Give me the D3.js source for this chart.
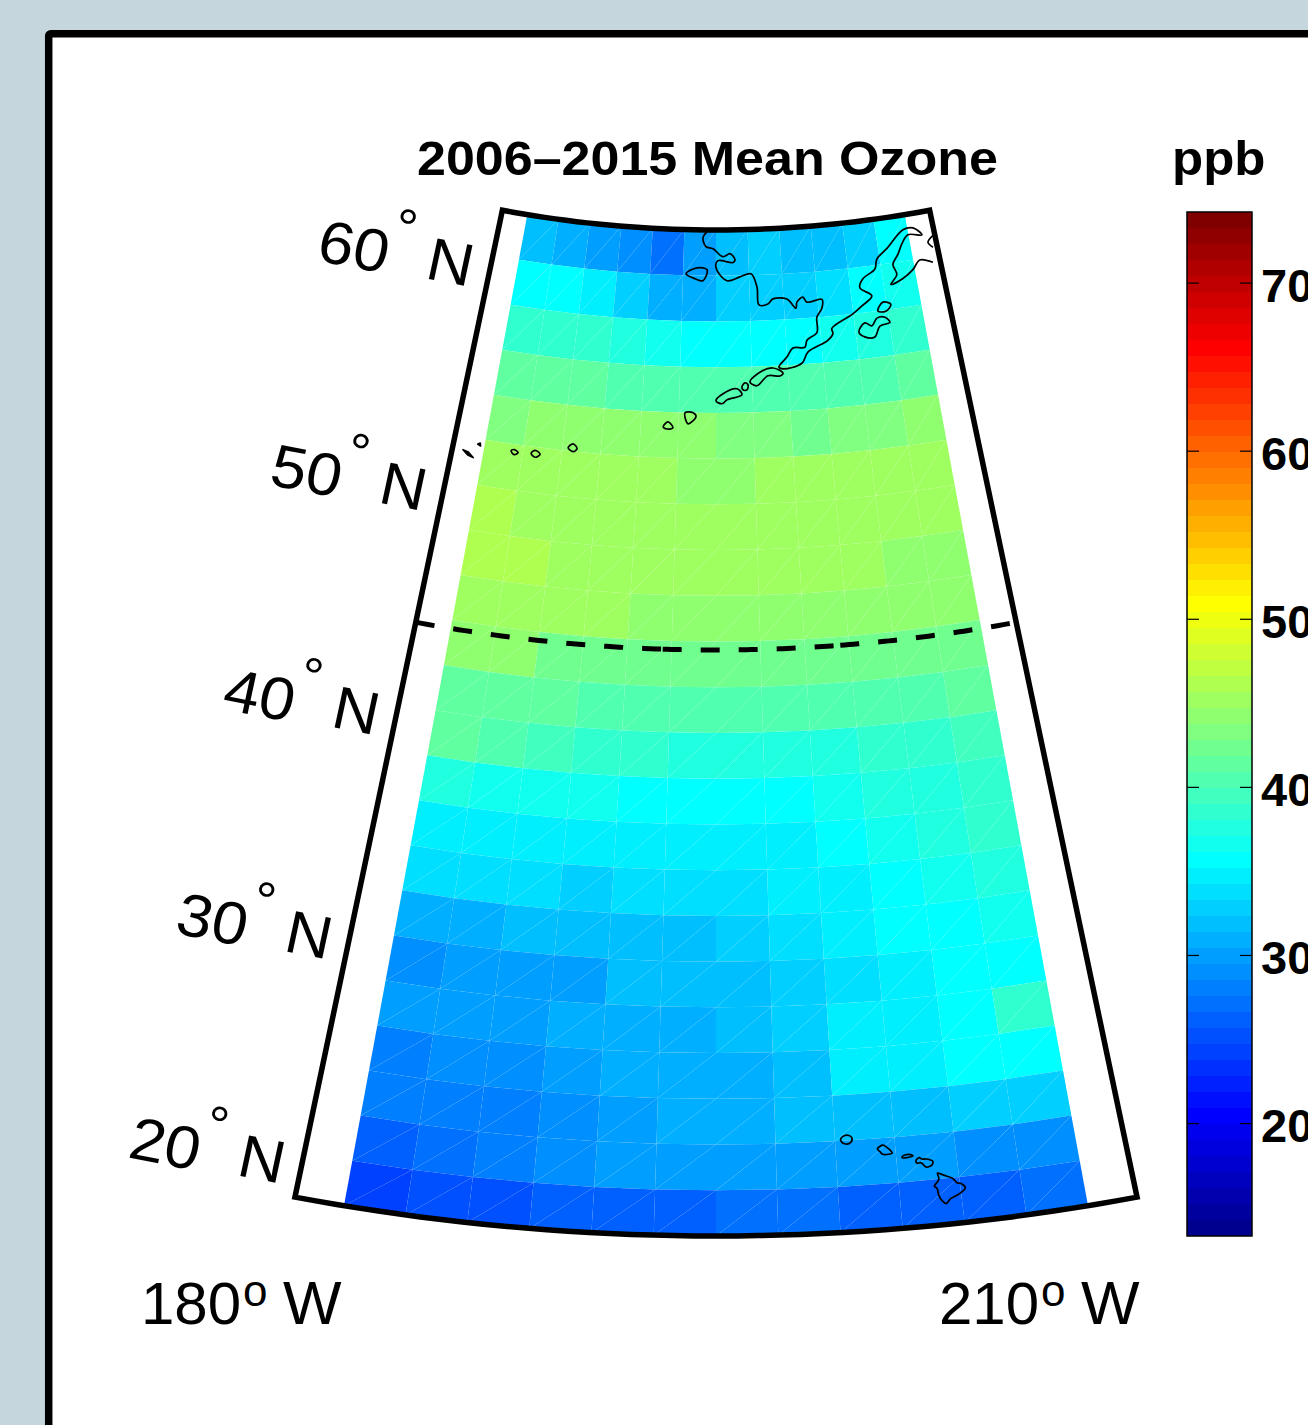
<!DOCTYPE html>
<html>
<head>
<meta charset="utf-8">
<script src="https://cdnjs.cloudflare.com/ajax/libs/d3/7.8.5/d3.min.js"></script>
<style>
  body { margin: 0; background: #c5d7dd; }
  svg { display: block; }
  text { font-family: "Liberation Sans", Arial, sans-serif; fill: #000; }
</style>
</head>
<body>
<svg width="1308" height="1425"></svg>
<script>
// grid edges, 2 x 2.5 degree cells
var latEdges = [62,60,58,56,54,52,50,48,46,44,42,40,38,36,34,32,30,28,26,24,22,20,18];
var lonEdges = [180,182.5,185,187.5,190,192.5,195,197.5,200,202.5,205,207.5,210];

// mean ozone in ppb, north row first, west to east
var row62 = [32,31,30,29,27.2,30,32,32.6,32,32,33,35.6];
var row60 = [35.6,35.6,34.9,32.4,30.6,31,32.4,32.4,33,33.9,35.3,37];
var row58 = [38.4,38.4,38.2,37.2,36.6,35.6,35.6,35.6,35.6,36.2,37.6,38.4];
var row56 = [41.4,41.5,41,40.5,40.5,40,40,40,40,40.5,40.5,41.4];
var row54 = [43.2,44.2,44.2,44.2,44.2,43.8,43.2,43.2,42.2,43.2,43.4,44.5];
var row52 = [45,45.2,45.2,45.2,45.2,43.8,43.8,45.2,45.2,45.2,45.2,45.2];
var row50 = [46.2,45.2,45.2,45.2,45.2,45.2,45.2,45.2,45.2,45.2,45.2,44.8];
var row48 = [46.2,46.2,45.2,45.2,45.2,45.2,45.2,45.2,45.2,45.2,44.2,44.2];
var row46 = [44.8,45.2,45.2,45.2,44.2,44.2,44.2,44.2,44.2,43.8,43.8,44.2];
var row44 = [44,43.8,42.6,42.4,42.4,42.4,42.4,42.4,42.4,42.4,42.4,42.6];
var row42 = [41.6,41.4,41.4,40.6,40.5,40.5,40.5,40.5,40.5,40.5,40.5,41.4];
var row40 = [41,40.5,39.9,38.5,38.2,37.6,37.6,37.6,37.8,38.2,38.6,39.8];
var row38 = [37.6,36.6,36.6,36.6,35.6,35.6,35.6,35.6,36.6,37.2,37.6,38.8];
var row36 = [34.8,34.8,34.8,34.8,34.8,34.8,34.8,34.8,35.6,36.6,37.6,38.5];
var row34 = [33.4,33.4,33.4,32.9,33.4,33.9,33.9,34.6,34.9,35.6,36.6,37.6];
var row32 = [31,31,31.5,31.5,32,32,32.5,33.9,34.8,35.6,36,36.6];
var row30 = [29,30,30,30,31.5,31.5,31.5,32.9,33.9,34.8,35.6,35.6];
var row28 = [29.6,30,30,30.5,30.5,31,31.5,32.9,34.4,34.8,35.6,38.2];
var row26 = [28,28.6,29,30,30.5,31,31,32,34.8,34.8,35.6,35.6];
var row24 = [27.6,27.6,28,29,30,30.5,31,32,32,32,32.5,32.9];
var row22 = [26.6,27.2,27.6,28.6,29.6,30,30,30,30,29.6,29,29];
var row20 = [24.3,24.8,25.3,26.2,26.6,26.6,26.9,26.9,26.6,26.6,26.6,27.2];
var ozoneRows = [row62,row60,row58,row56,row54,row52,row50,row48,row46,row44,row42,row40,
                 row38,row36,row34,row32,row30,row28,row26,row24,row22,row20];

var barTicks = [20,30,40,50,60,70];
var latLabels = [60,50,40,30,20];
var lonLabels = ["180", "210"];
var frameLons = [178,212];
var frameLats = [18,62];
var dashLat = 43.63;
var dashBreaks = [178,192,202,212];

// coast outlines in lon (east), lat
var akCoast = [[194.29,61.92],[193.98,61.66],[194.22,61.27],[194.77,61.18],[195.54,60.83],[196.08,60.96],[196.46,60.69],[196.3,60.57],[195.15,60.66],[195,60.35],[195.83,59.78],[196.81,59.94],[197.65,60.06],[198.07,59.48],[198.17,58.69],[198.83,58.72],[199.22,58.93],[200.25,58.89],[200.87,58.47],[200.97,58.73],[201.44,58.93],[201.71,58.7],[202.83,58.77],[202.76,58.38],[202.34,58.01],[202.25,57.35],[201.49,57.04],[201.31,56.74],[200.45,56.74],[199.99,56.36],[199.39,55.94],[199.66,55.85],[201.01,56.05],[201.49,56.52],[202.97,56.96],[203.38,57.24],[203.34,57.47],[204.97,58.01],[205.7,58.31],[206.52,58.69],[205.72,59.11],[206.03,59.48],[207.03,59.84],[207.29,60.26],[208.18,60.66],[209.65,61.36],[210.44,61.37],[211.02,61],[209.96,61.11],[209.38,60.77],[208.93,60.33],[208.43,59.93],[208.6,59.47],[208.04,59.08],[209,59.26],[209.85,59.57],[210.5,59.94],[211.44,59.74]];
var akEast = [[211.85,60.9],[211.37,60.64],[211.67,60.39]];
var nunivak = [[192.73,60.07],[193.55,60.34],[194.32,60.26],[194.02,59.78],[193.42,59.86]];
var kodiak = [[205.24,57.2],[205.75,57.56],[206.22,57.39],[206.66,57.7],[207.24,57.69],[207.54,57.44],[206.79,57.34],[206.32,56.89],[205.62,56.95]];
var afognak = [[207.26,58.36],[207.81,58.22],[207.37,57.95],[206.8,58]];
var unimak = [[197.34,55.34],[198.2,55.8],[198.97,55.91],[199.65,55.67],[199.43,55.55],[198.6,55.58],[197.81,55.16]];
var akutan = [[196.78,55.13],[197,55.3],[197.2,55.21],[197.12,54.99],[196.85,55]];
var unalaska = [[195,54.53],[195.48,54.84],[196.44,55.05],[196.77,54.78],[195.75,54.57],[195.41,54.4]];
var umnak = [[192.92,53.99],[193.46,54],[193.66,53.83],[193.14,53.51]];
var atka = [[191.49,53.35],[191.8,53.57],[192.15,53.32],[191.76,53.26]];
var adak = [[185.38,52.14],[185.67,52.33],[185.96,52.14],[185.73,51.99]];
var kiska = [[183.05,51.71],[183.28,51.86],[183.63,51.72],[183.34,51.56]];
var amchitka = [[181.75,51.7],[181.93,51.77],[182.21,51.66],[181.98,51.55]];
var attu = [[178.69,51.41],[179.05,51.35],[179.42,51.15],[179.05,51.22]];
var agattu = [[179.55,51.76],[179.7,51.82],[179.75,51.7]];
var bigIsland = [[204.13,20.27],[204.2,20.25],[204.45,20.12],[204.72,19.98],[204.9,19.75],[205.02,19.73],[205.2,19.52],[205.05,19.35],[204.78,19.2],[204.55,19.1],[204.35,18.91],[204.2,19.05],[204.09,19.3],[204.05,19.6],[203.95,19.72],[204.1,19.9],[204.17,20.02]];
var maui = [[203.3,20.9],[203.45,21.02],[203.55,20.95],[203.75,20.93],[204,20.8],[203.95,20.65],[203.7,20.58],[203.55,20.75],[203.47,20.8],[203.35,20.78]];
var molokai = [[202.75,21.13],[202.9,21.2],[203.15,21.17],[203.2,21.12],[202.95,21.07],[202.75,21.08]];
var oahu = [[201.75,21.55],[201.97,21.7],[202.05,21.68],[202.35,21.32],[202.2,21.28],[201.95,21.3],[201.85,21.42]];
var kauai = [[200.25,22.1],[200.4,22.22],[200.6,22.22],[200.72,22.1],[200.65,21.9],[200.4,21.87],[200.25,22]];
var islands = [nunivak,kodiak,afognak,unimak,akutan,unalaska,umnak,atka,adak,kiska,amchitka,bigIsland,maui,molokai,oahu,kauai];
var tinyIslands = [attu,agattu];

var svg = d3.select("svg");

// panel
svg.append("rect").attr("x",48.7).attr("y",33.7).attr("width",1400).attr("height",1500).attr("rx",2)
   .attr("fill","#fff").attr("stroke","#000").attr("stroke-width",7.5);

// conic map: latitude goes to radius, longitude to angle, apex above the page
// the figure was stretched a bit sideways, hence xStretch (the text too)
var apex = [716,-806];
var xStretch = 1.0616;
var radius = d3.scaleLinear().domain([18,62]).range([2042,1036]);
var angle = d3.scaleLinear().domain([195,210]).range([0,0.6588*15*Math.PI/180]);
function project(p){
  var r = radius(p[1]), a = angle(p[0]);
  return [apex[0]+xStretch*r*Math.sin(a), apex[1]+r*Math.cos(a)];
}
var line = d3.line();
var smoothClosed = d3.line().curve(d3.curveCatmullRomClosed.alpha(0.5));
var smoothOpen = d3.line().curve(d3.curveCatmullRom.alpha(0.5));
function parallel(lat,lon0,lon1){
  return d3.range(0,41).map(function(i){ return project([lon0+(lon1-lon0)*i/40,lat]) });
}

// jet(64) as matlab builds it, indexed 1..64
var barRange = [13.28,74.2];
var jet = d3.scaleLinear().domain([1,8,24,40,56,64])
            .range(["#00008f","#0000ff","#00ffff","#ffff00","#ff0000","#800000"]);
var level = d3.scaleQuantize().domain(barRange).range(d3.range(1,65));
function colour(v){ return jet(level(v)) }

// the cells, split in two triangles each so the seams show like in the original surface
var cells = [];
ozoneRows.forEach(function(row,i){
  row.forEach(function(v,j){
    var tl = project([lonEdges[j],latEdges[i]]), tr = project([lonEdges[j+1],latEdges[i]]);
    var bl = project([lonEdges[j],latEdges[i+1]]), br = project([lonEdges[j+1],latEdges[i+1]]);
    cells.push({v:v,pts:[bl,br,tr]});
    cells.push({v:v,pts:[bl,tr,tl]});
  });
});
svg.append("g").selectAll("path").data(cells).enter().append("path")
   .attr("d",function(d){ return line(d.pts)+"Z" })
   .attr("fill",function(d){ return colour(d.v) });

// coasts
var coast = svg.append("g").attr("fill","none").attr("stroke","#000").attr("stroke-width",1.7)
               .attr("stroke-linejoin","round");
coast.selectAll(".isl").data(islands).enter().append("path").attr("class","isl")
     .attr("d",function(d){ return smoothClosed(d.map(project)) });
coast.selectAll(".tiny").data(tinyIslands).enter().append("path").attr("class","tiny")
     .attr("fill","#000").attr("d",function(d){ return line(d.map(project))+"Z" });
coast.selectAll(".ml").data([akCoast,akEast]).enter().append("path").attr("class","ml")
     .attr("d",function(d){ return smoothOpen(d.map(project)) });

// dashed parallel
d3.pairs(dashBreaks).forEach(function(b){
  svg.append("path").attr("d",line(parallel(dashLat,b[0],b[1])))
     .attr("fill","none").attr("stroke","#000").attr("stroke-width",5).attr("stroke-dasharray","19,19");
});

// frame
var framePts = parallel(frameLats[0],frameLons[0],frameLons[1])
               .concat(parallel(frameLats[1],frameLons[1],frameLons[0]));
svg.append("path").attr("d",line(framePts)+"Z").attr("fill","none").attr("stroke","#000")
   .attr("stroke-width",5.5).attr("stroke-linejoin","miter");

// latitude labels along the west side
var tilt = 11.5;
var latG = svg.selectAll(".lat").data(latLabels).enter().append("g").attr("class","lat")
  .attr("transform",function(d){
    var p = project([frameLons[0],d]);
    return "translate("+(p[0]-178)+","+(p[1]+5)+") scale("+xStretch+",1) rotate("+tilt+")";
  });
latG.append("text").attr("font-size",60).text(function(d){ return d });
latG.append("text").attr("font-size",52).attr("x",67).attr("y",-31).text("°");
latG.append("text").attr("font-size",60).attr("x",104).attr("y",-3).text("N");

// longitude labels
var lonG = svg.selectAll(".lon").data(lonLabels).enter().append("g").attr("class","lon")
  .attr("transform",function(d,i){ return "translate("+(i==0?141:939)+",1324)" });
lonG.append("text").attr("font-size",60).text(function(d){ return d });
lonG.append("text").attr("font-size",44).attr("x",102).attr("y",-18).text("o");
lonG.append("text").attr("font-size",62).attr("x",142).text("W");

// titles
svg.append("text").attr("transform","translate(417,175) scale("+xStretch+",1)")
   .attr("font-size",49).attr("font-weight","bold").text("2006–2015 Mean Ozone");
svg.append("text").attr("transform","translate(1172,175) scale("+xStretch+",1)")
   .attr("font-size",48).attr("font-weight","bold").text("ppb");

// colour bar
var barX = 1187, barW = 65;
var barY = d3.scaleLinear().domain(barRange).range([1236,212]);
var barBands = d3.range(1,65);
var bandV = d3.scaleLinear().domain([1,65]).range(barRange);
svg.append("g").selectAll("rect").data(barBands).enter().append("rect")
   .attr("x",barX).attr("width",barW)
   .attr("y",function(d){ return barY(bandV(d+1)) })
   .attr("height",function(d){ return barY(bandV(d))-barY(bandV(d+1)) })
   .attr("fill",function(d){ return jet(d) })
   .attr("shape-rendering","crispEdges");
svg.append("rect").attr("x",barX).attr("y",212).attr("width",barW).attr("height",1024)
   .attr("fill","none").attr("stroke","#000").attr("stroke-width",1.5);

var rightAxis = svg.append("g").attr("transform","translate("+(barX+barW)+",0)")
   .call(d3.axisRight(barY).tickValues(barTicks).tickSize(-12).tickPadding(9).tickFormat(d3.format("d")));
var leftAxis = svg.append("g").attr("transform","translate("+barX+",0)")
   .call(d3.axisLeft(barY).tickValues(barTicks).tickSize(-12).tickFormat(""));
rightAxis.select(".domain").remove();
leftAxis.select(".domain").remove();
svg.selectAll(".tick line").attr("stroke","#000").attr("stroke-width",1.2);
rightAxis.selectAll("text").attr("font-size",47).attr("font-weight","bold")
   .attr("font-family","Liberation Sans").attr("fill","#000").attr("dy","0.4em");
</script>
</body>
</html>
